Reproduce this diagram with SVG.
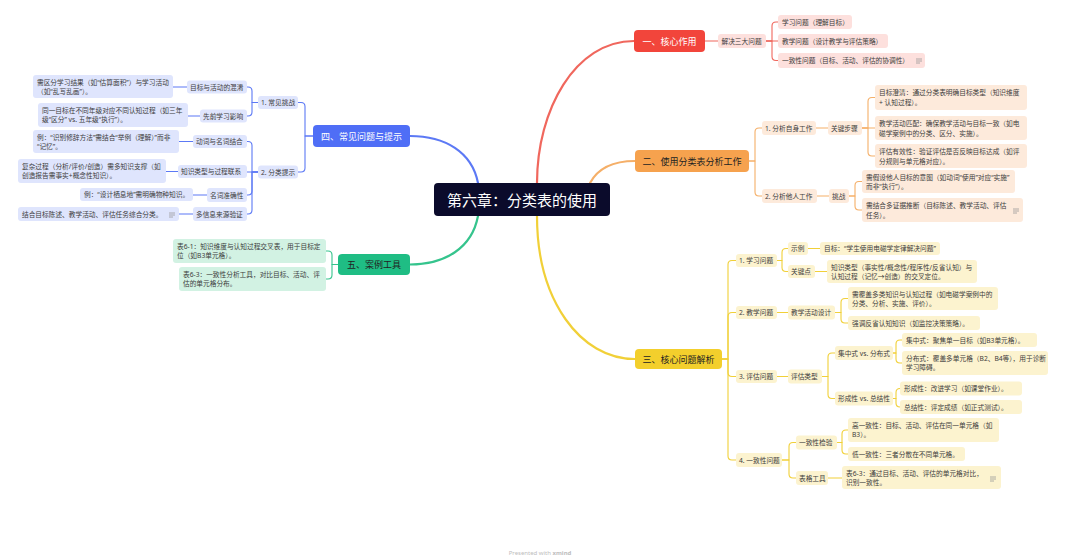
<svg xmlns="http://www.w3.org/2000/svg" xmlns:xlink="http://www.w3.org/1999/xlink" width="1080" height="560" viewBox="0 0 1080 560">
<style>
text{font-family:"Noto Sans","Noto Sans CJK SC",sans-serif;font-size:6.7px;fill:#3c3c3c;dominant-baseline:central}
.mt{font-size:9px;text-anchor:middle}
.ct{font-size:15px;text-anchor:middle;fill:#fff}
.w{fill:#fff}
.dk{fill:#222}
rect{rx:3px;ry:3px}
.m{rx:4px;ry:4px}
.pr{fill:#fde0dd}
.po{fill:#fdeadb}
.py{fill:#fcf3cf}
.pb{fill:#dfe5fd}
.pg{fill:#d2f2e3}
.conn path{fill:none;stroke-width:1.1;stroke-linecap:round;stroke-linejoin:round}
.conn .main{stroke-width:2.2}
.cr{stroke:#f0675d}
.co{stroke:#f5af68}
.cy{stroke:#f1d038}
.cb{stroke:#5c79f5}
.cg{stroke:#35c48d}
.foot{font-size:6px;fill:#bdbdbd;text-anchor:middle}
</style>
<defs>
<symbol id="note" viewBox="0 0 6 5" overflow="visible">
<path d="M0,1 H6 M0,3 H6 M0,5 H4" fill="none" stroke="#9a9a9a" stroke-width="0.8"/>
</symbol>
</defs>
<rect x="0" y="0" width="1080" height="560" fill="#fff" style="rx:0;ry:0"/>

<g id="connectors" class="conn">
<path class="main cr" d="M537,183 C537,110 575,41 634,41"/>
<path class="main co" d="M590,183 C598,168 612,161 635,161"/>
<path class="main cy" d="M537,216 C537,300 580,359 635,359"/>
<path class="main cb" d="M478,183 C472,152 445,136 410,136"/>
<path class="main cg" d="M478,216 C472,248 445,264.5 410,264.5"/>

<path class="cr" d="M705,41 H718"/>
<path class="cr" d="M766,41 H772 V26 Q772,22 776,22 H778"/>
<path class="cr" d="M766,41 H778"/>
<path class="cr" d="M766,41 H772 V56.5 Q772,60.5 776,60.5 H778"/>

<path class="co" d="M749,161 H755 V132 Q755,128 759,128 H762"/>
<path class="co" d="M749,161 H755 V192 Q755,196 759,196 H762"/>
<path class="co" d="M816,128 H828"/>
<path class="co" d="M862,128 H868 V101.5 Q868,97.5 872,97.5 H875"/>
<path class="co" d="M862,128 H875"/>
<path class="co" d="M862,128 H868 V152 Q868,156 872,156 H875"/>
<path class="co" d="M817,196 H829"/>
<path class="co" d="M849,196 H855 V185.5 Q855,181.5 859,181.5 H862"/>
<path class="co" d="M849,196 H855 V206 Q855,210 859,210 H862"/>

<path class="cy" d="M722,359 H728 V264.5 Q728,260.5 732,260.5 H736"/>
<path class="cy" d="M722,359 H728 V316.5 Q728,312.5 732,312.5 H736"/>
<path class="cy" d="M722,359 H728 V372.5 Q728,376.5 732,376.5 H736"/>
<path class="cy" d="M722,359 H728 V456 Q728,460 732,460 H736"/>
<path class="cy" d="M777,260.5 H782 V252.5 Q782,248.5 786,248.5 H788"/>
<path class="cy" d="M777,260.5 H782 V267.5 Q782,271.5 786,271.5 H788"/>
<path class="cy" d="M808,248.5 H820"/>
<path class="cy" d="M815,271.5 H827"/>
<path class="cy" d="M777,312.5 H788"/>
<path class="cy" d="M835,312.5 H841 V302.5 Q841,298.5 845,298.5 H848"/>
<path class="cy" d="M835,312.5 H841 V319 Q841,323 845,323 H848"/>
<path class="cy" d="M777,376.5 H788"/>
<path class="cy" d="M822,376.5 H828 V357 Q828,353 832,353 H835"/>
<path class="cy" d="M822,376.5 H828 V394.5 Q828,398.5 832,398.5 H835"/>
<path class="cy" d="M893,353 H896 V344 Q896,340 900,340 H902"/>
<path class="cy" d="M893,353 H896 V359 Q896,363 900,363 H902"/>
<path class="cy" d="M893,398.5 H896 V392.5 Q896,388.5 900,388.5"/>
<path class="cy" d="M893,398.5 H896 V403 Q896,407 900,407"/>
<path class="cy" d="M782,460 H789 V446.5 Q789,442.5 793,442.5 H796"/>
<path class="cy" d="M782,460 H789 V474 Q789,478 793,478 H796"/>
<path class="cy" d="M837,442.5 H842 V434 Q842,430 846,430 H848"/>
<path class="cy" d="M837,442.5 H842 V450 Q842,454 846,454 H848"/>
<path class="cy" d="M828,478 H842"/>

<path class="cb" d="M313,136 H305 V106.5 Q305,102.5 301,102.5 H298"/>
<path class="cb" d="M313,136 H305 V168 Q305,172 301,172 H298"/>
<path class="cb" d="M258,102.5 H252 V91 Q252,87 248,87 H247"/>
<path class="cb" d="M258,102.5 H252 V112 Q252,116 248,116 H247"/>
<path class="cb" d="M187,87 H173"/>
<path class="cb" d="M200,116 H188"/>
<path class="cb" d="M258,172 H252 V145.5 Q252,141.5 248,141.5 H247"/>
<path class="cb" d="M258,172 H247"/>
<path class="cb" d="M258,172 H252 V191 Q252,195 248,195 H247"/>
<path class="cb" d="M258,172 H252 V210 Q252,214 248,214 H247"/>
<path class="cb" d="M193,141.5 H179"/>
<path class="cb" d="M178,171.5 H166"/>
<path class="cb" d="M207,195 H193"/>
<path class="cb" d="M193,214 H179"/>

<path class="cg" d="M338,264.5 H332 V255 Q332,251 328,251 H326"/>
<path class="cg" d="M338,264.5 H332 V275 Q332,279 328,279 H326"/>
</g>

<g id="center"><rect class="m" x="434" y="183" width="176" height="33" fill="#0b0b2b"/><text class="ct" x="522" y="199.5">第六章：分类表的使用</text></g>

<g id="n1"><rect class="m" x="634" y="30" width="71" height="22" fill="#f2453b"/><text class="mt w" x="669.5" y="41">一、核心作用</text></g>
<g id="n1-1"><rect class="pr" x="718" y="34" width="48" height="14"/><text x="721.5" y="41">解决三大问题</text></g>
<g id="n1-1-1"><rect class="pr" x="778" y="15" width="74" height="14"/><text x="782" y="22">学习问题（理解目标）</text></g>
<g id="n1-1-2"><rect class="pr" x="778" y="34" width="110" height="14"/><text x="782" y="41">教学问题（设计教学与评估策略）</text></g>
<g id="n1-1-3"><rect class="pr" x="778" y="53" width="147" height="15"/><text x="782" y="60.5">一致性问题（目标、活动、评估的协调性）</text><use href="#note" x="916" y="58" width="6" height="5"/></g>

<g id="n2"><rect class="m" x="635" y="150" width="114" height="22" fill="#f6a24e"/><text class="mt dk" x="692" y="161">二、使用分类表分析工作</text></g>
<g id="n2-1"><rect class="po" x="762" y="121" width="54" height="14"/><text x="765" y="128">1. 分析自身工作</text></g>
<g id="n2-1-1"><rect class="po" x="828" y="121" width="34" height="14"/><text x="831" y="128">关键步骤</text></g>
<g id="n2-1-1-1"><rect class="po" x="875" y="85" width="152" height="25"/><text x="879" y="92.5">目标澄清：通过分类表明确目标类型（知识维度</text><text x="879" y="102.5">+ 认知过程）。</text></g>
<g id="n2-1-1-2"><rect class="po" x="875" y="116" width="152" height="24"/><text x="879" y="123">教学活动匹配：确保教学活动与目标一致（如电</text><text x="879" y="133">磁学案例中的分类、区分、实施）。</text></g>
<g id="n2-1-1-3"><rect class="po" x="875" y="144" width="152" height="24"/><text x="879" y="151">评估有效性：验证评估是否反映目标达成（如评</text><text x="879" y="161">分规则与单元格对应）。</text></g>
<g id="n2-2"><rect class="po" x="762" y="189" width="55" height="14"/><text x="765" y="196">2. 分析他人工作</text></g>
<g id="n2-2-1"><rect class="po" x="829" y="189" width="20" height="14"/><text x="832" y="196">挑战</text></g>
<g id="n2-2-1-1"><rect class="po" x="862" y="170" width="153" height="23"/><text x="866" y="177">需假设他人目标的意图（如动词“使用”对应“实施”</text><text x="866" y="186.5">而非“执行”）。</text></g>
<g id="n2-2-1-2"><rect class="po" x="862" y="198" width="161" height="24"/><text x="866" y="205">需结合多证据推断（目标陈述、教学活动、评估</text><text x="866" y="215">任务）。</text><use href="#note" x="1013" y="208" width="6" height="5"/></g>

<g id="n3"><rect class="m" x="635" y="349" width="87" height="20" fill="#f3cf2c"/><text class="mt dk" x="678.5" y="359">三、核心问题解析</text></g>
<g id="n3-1"><rect class="py" x="736" y="254" width="41" height="13"/><text x="739" y="260.5">1. 学习问题</text></g>
<g id="n3-1-1"><rect class="py" x="788" y="242" width="20" height="13"/><text x="791" y="248.5">示例</text></g>
<g id="n3-1-1-1"><rect class="py" x="820" y="242" width="120" height="13"/><text x="824" y="248.5">目标：“学生使用电磁学定律解决问题”</text></g>
<g id="n3-1-2"><rect class="py" x="788" y="265" width="27" height="13"/><text x="791" y="271.5">关键点</text></g>
<g id="n3-1-2-1"><rect class="py" x="827" y="260" width="150" height="23"/><text x="831" y="267">知识类型（事实性/概念性/程序性/反省认知）与</text><text x="831" y="276.5">认知过程（记忆→创造）的交叉定位。</text></g>
<g id="n3-2"><rect class="py" x="736" y="306" width="41" height="13"/><text x="739" y="312.5">2. 教学问题</text></g>
<g id="n3-2-1"><rect class="py" x="788" y="305.5" width="47" height="14"/><text x="791" y="312.5">教学活动设计</text></g>
<g id="n3-2-1-1"><rect class="py" x="848" y="287" width="150" height="23"/><text x="852" y="294">需覆盖多类知识与认知过程（如电磁学案例中的</text><text x="852" y="303.5">分类、分析、实施、评价）。</text></g>
<g id="n3-2-1-2"><rect class="py" x="848" y="316" width="132" height="14"/><text x="852" y="323">强调反省认知知识（如监控决策策略）。</text></g>
<g id="n3-3"><rect class="py" x="736" y="370" width="41" height="13"/><text x="739" y="376.5">3. 评估问题</text></g>
<g id="n3-3-1"><rect class="py" x="788" y="369.5" width="34" height="14"/><text x="791" y="376.5">评估类型</text></g>
<g id="n3-3-1-1"><rect class="py" x="835" y="346" width="58" height="14"/><text x="838" y="353">集中式 vs. 分布式</text></g>
<g id="n3-3-1-1-1"><rect class="py" x="902" y="333" width="135" height="14"/><text x="906" y="340">集中式：聚焦单一目标（如B3单元格）。</text></g>
<g id="n3-3-1-1-2"><rect class="py" x="902" y="351" width="146" height="24"/><text x="906" y="358">分布式：覆盖多单元格（B2、B4等），用于诊断</text><text x="906" y="367.5">学习障碍。</text></g>
<g id="n3-3-1-2"><rect class="py" x="835" y="391.5" width="58" height="14"/><text x="838" y="398.5">形成性 vs. 总结性</text></g>
<g id="n3-3-1-2-1"><rect class="py" x="900" y="381.5" width="122" height="14"/><text x="904" y="388.5">形成性：改进学习（如课堂作业）。</text></g>
<g id="n3-3-1-2-2"><rect class="py" x="900" y="400" width="122" height="14"/><text x="904" y="407">总结性：评定成绩（如正式测试）。</text></g>
<g id="n3-4"><rect class="py" x="736" y="453" width="46" height="14"/><text x="739" y="460">4. 一致性问题</text></g>
<g id="n3-4-1"><rect class="py" x="796" y="435.5" width="41" height="14"/><text x="799" y="442.5">一致性检验</text></g>
<g id="n3-4-1-1"><rect class="py" x="848" y="418" width="151" height="24"/><text x="852" y="425">高一致性：目标、活动、评估在同一单元格（如</text><text x="852" y="434.5">B3）。</text></g>
<g id="n3-4-1-2"><rect class="py" x="848" y="447" width="117" height="14"/><text x="852" y="454">低一致性：三者分散在不同单元格。</text></g>
<g id="n3-4-2"><rect class="py" x="796" y="471" width="32" height="14"/><text x="799" y="478">表格工具</text></g>
<g id="n3-4-2-1"><rect class="py" x="842" y="466" width="159" height="23"/><text x="846" y="473">表6-3：通过目标、活动、评估的单元格对比，</text><text x="846" y="482.5">识别一致性。</text><use href="#note" x="990" y="476" width="6" height="5"/></g>

<g id="n4"><rect class="m" x="313" y="125" width="97" height="22" fill="#4f6ef6"/><text class="mt w" x="361.5" y="136">四、常见问题与提示</text></g>
<g id="n4-1"><rect class="pb" x="258" y="96" width="40" height="13"/><text x="261" y="102.5">1. 常见挑战</text></g>
<g id="n4-1-1"><rect class="pb" x="187" y="80.5" width="60" height="13"/><text x="190" y="87">目标与活动的混淆</text></g>
<g id="n4-1-1-1"><rect class="pb" x="33" y="75" width="140" height="23"/><text x="37" y="82">需区分学习结果（如“估算面积”）与学习活动</text><text x="37" y="91.5">（如“乱写乱画”）。</text></g>
<g id="n4-1-2"><rect class="pb" x="200" y="109.5" width="47" height="13"/><text x="203" y="116">先前学习影响</text></g>
<g id="n4-1-2-1"><rect class="pb" x="38" y="103" width="150" height="24"/><text x="42" y="110">同一目标在不同年级对应不同认知过程（如三年</text><text x="42" y="119.5">级“区分” vs. 五年级“执行”）。</text></g>
<g id="n4-2"><rect class="pb" x="258" y="165.5" width="40" height="13"/><text x="261" y="172">2. 分类提示</text></g>
<g id="n4-2-1"><rect class="pb" x="193" y="135" width="54" height="13"/><text x="196" y="141.5">动词与名词结合</text></g>
<g id="n4-2-1-1"><rect class="pb" x="33" y="130" width="146" height="23"/><text x="37" y="137">例：“识别修辞方法”需结合“举例（理解）”而非</text><text x="37" y="146.5">“记忆”。</text></g>
<g id="n4-2-2"><rect class="pb" x="178" y="165" width="69" height="13"/><text x="181" y="171.5">知识类型与过程联系</text></g>
<g id="n4-2-2-1"><rect class="pb" x="18" y="159" width="148" height="24"/><text x="22" y="166">复杂过程（分析/评价/创造）需多知识支撑（如</text><text x="22" y="175.5">创造报告需事实+概念性知识）。</text></g>
<g id="n4-2-3"><rect class="pb" x="207" y="188" width="40" height="14"/><text x="210" y="195">名词准确性</text></g>
<g id="n4-2-3-1"><rect class="pb" x="80" y="188" width="113" height="13"/><text x="84" y="194.5">例：“设计栖息地”需明确物种知识。</text></g>
<g id="n4-2-4"><rect class="pb" x="193" y="207" width="54" height="14"/><text x="196" y="214">多信息来源验证</text></g>
<g id="n4-2-4-1"><rect class="pb" x="18" y="207" width="161" height="14"/><text x="22" y="214">结合目标陈述、教学活动、评估任务综合分类。</text><use href="#note" x="169" y="212" width="6" height="5"/></g>

<g id="n5"><rect class="m" x="338" y="254" width="72" height="21" fill="#1fbd84"/><text class="mt dk" x="374" y="264.5">五、案例工具</text></g>
<g id="n5-1"><rect class="pg" x="173" y="239" width="153" height="24"/><text x="177" y="246">表6-1：知识维度与认知过程交叉表，用于目标定</text><text x="177" y="255.5">位（如B3单元格）。</text></g>
<g id="n5-2"><rect class="pg" x="179" y="267" width="147" height="24"/><text x="183" y="274">表6-3：一致性分析工具，对比目标、活动、评</text><text x="183" y="283.5">估的单元格分布。</text></g>

<text class="foot" x="540" y="553">Presented with <tspan font-weight="bold">xmind</tspan></text>
</svg>
